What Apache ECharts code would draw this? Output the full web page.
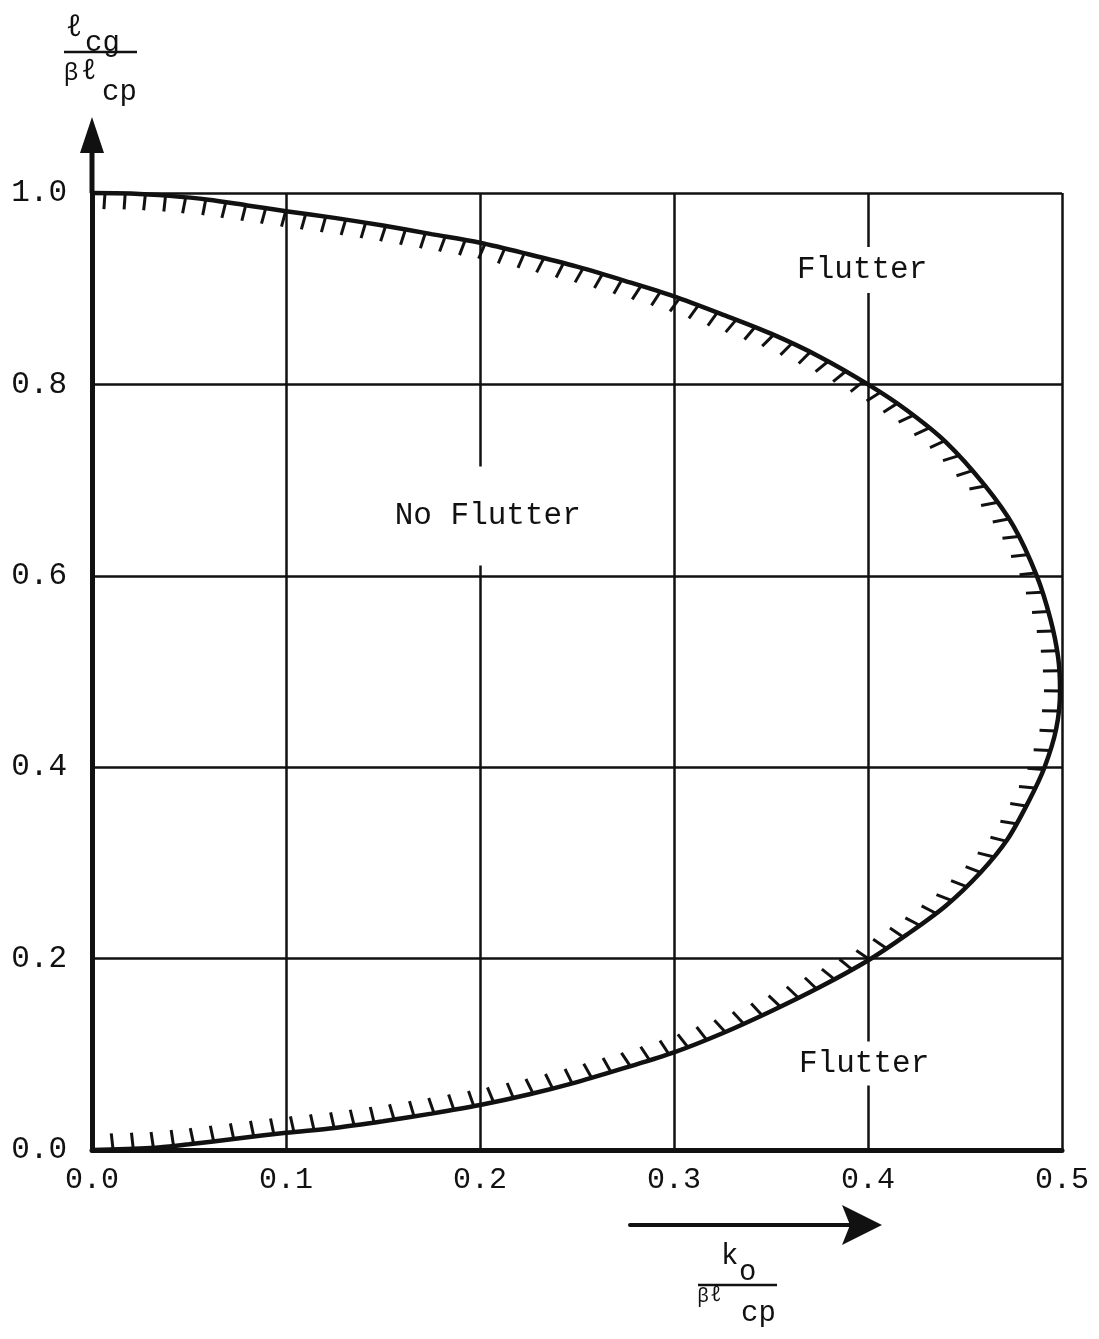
<!DOCTYPE html>
<html><head><meta charset="utf-8">
<script src="https://cdn.jsdelivr.net/npm/echarts@6/dist/echarts.min.js"></script>
<style>html,body{margin:0;padding:0;background:#fff}#c{width:1099px;height:1339px}</style>
</head><body><div id="c"></div>
<script>
// Flutter boundary: k_o/(beta l_cp) vs l_cg/(beta l_cp)
const curveK = [0, 0.02, 0.04, 0.06, 0.08, 0.1, 0.125, 0.15, 0.175, 0.2, 0.225, 0.25, 0.275, 0.3, 0.325, 0.35, 0.375, 0.4, 0.42, 0.44, 0.46, 0.475, 0.487, 0.494, 0.498, 0.499, 0.497, 0.491, 0.483, 0.472, 0.458, 0.44, 0.42, 0.4, 0.375, 0.35, 0.325, 0.3, 0.275, 0.25, 0.225, 0.2, 0.175, 0.15, 0.125, 0.1, 0.075, 0.05, 0.03, 0];
const curveL = [1.0, 0.9995, 0.997, 0.993, 0.987, 0.981, 0.974, 0.966, 0.957, 0.948, 0.936, 0.923, 0.908, 0.892, 0.873, 0.853, 0.829, 0.800, 0.773, 0.740, 0.695, 0.652, 0.600, 0.555, 0.515, 0.48, 0.44, 0.400, 0.365, 0.325, 0.29, 0.255, 0.225, 0.198, 0.170, 0.145, 0.122, 0.102, 0.086, 0.071, 0.058, 0.047, 0.038, 0.030, 0.023, 0.018, 0.012, 0.006, 0.002, 0];
const xTickLabels = ['0.0', '0.1', '0.2', '0.3', '0.4', '0.5'];
const yTickLabels = ['0.0', '0.2', '0.4', '0.6', '0.8', '1.0'];
const regionNames = ['Flutter', 'No Flutter', 'Flutter'];

const FONT = '"Liberation Mono", "DejaVu Sans Mono", monospace';
const SYM = '"Noto Sans", "DejaVu Sans", sans-serif';
const INK = '#111';

function renderHatch(params, api) {
  const pts = curveK.map((k, i) => api.coord([k, curveL[i]]));
  const n = pts.length;
  const cum = [0];
  for (let i = 1; i < n; i++) {
    cum.push(cum[i - 1] + Math.hypot(pts[i][0] - pts[i - 1][0], pts[i][1] - pts[i - 1][1]));
  }
  const total = cum[n - 1];
  const L = 16;
  const children = [];
  for (let s = 13; s < total - 12; s += 20.2) {
    let j = 1;
    while (cum[j] < s) j++;
    const t = (s - cum[j - 1]) / (cum[j] - cum[j - 1] || 1);
    const px = pts[j - 1][0] + t * (pts[j][0] - pts[j - 1][0]);
    const py = pts[j - 1][1] + t * (pts[j][1] - pts[j - 1][1]);
    const a = pts[Math.max(0, j - 2)], b = pts[Math.min(n - 1, j + 1)];
    let tx = b[0] - a[0], ty = b[1] - a[1];
    const tl = Math.hypot(tx, ty) || 1;
    tx /= tl; ty /= tl;
    const nx = -ty, ny = tx;
    let phi = Math.atan2(ny, nx);
    phi += (25 * Math.PI / 180) * Math.abs(Math.sin(2 * phi)) * (ny > 0 ? 1 : -1);
    children.push({
      type: 'line',
      shape: { x1: px, y1: py, x2: px + L * Math.cos(phi), y2: py + L * Math.sin(phi) },
      style: { stroke: INK, lineWidth: 3, lineCap: 'butt' }
    });
  }
  return { type: 'group', children };
}

function txt(text, x, y, size, family, align, italic) {
  return { type: 'text', style: { text, x, y, align: align || 'left', verticalAlign: 'middle',
    fontSize: size, fontFamily: family, fontStyle: italic ? 'italic' : 'normal', fill: INK } };
}

const chart = echarts.init(document.getElementById('c'), null, { renderer: 'canvas' });
const regionStyle = { color: INK, fontFamily: FONT, fontSize: 31, backgroundColor: '#fff', opacity: 1 };
chart.setOption({
  animation: false,
  backgroundColor: '#fff',
  grid: { left: 92, right: 37, top: 193, bottom: 189, containLabel: false },
  xAxis: {
    type: 'value', min: 0, max: 0.5, interval: 0.1,
    axisLine: { show: true, onZero: false, lineStyle: { color: INK, width: 5 } },
    axisTick: { show: false },
    splitLine: { show: true, lineStyle: { color: INK, width: 2.5 } },
    axisLabel: { color: INK, fontFamily: FONT, fontSize: 30, margin: 15,
      formatter: v => xTickLabels[Math.round(v * 10)] }
  },
  yAxis: {
    type: 'value', min: 0, max: 1, interval: 0.2,
    axisLine: { show: true, onZero: false, lineStyle: { color: INK, width: 5 } },
    axisTick: { show: false },
    splitLine: { show: true, lineStyle: { color: INK, width: 2.5 } },
    axisLabel: { color: INK, fontFamily: FONT, fontSize: 31, margin: 25,
      formatter: v => yTickLabels[Math.round(v * 5)] }
  },
  series: [
    {
      type: 'line', data: curveK.map((k, i) => [k, curveL[i]]),
      smooth: 0.3, showSymbol: false, clip: false, silent: true, z: 5,
      lineStyle: { color: INK, width: 4.5 }
    },
    {
      type: 'custom', data: [[0, 0]], renderItem: renderHatch, clip: false, silent: true, z: 4
    },
    {
      type: 'scatter', symbolSize: 0, silent: true, z: 3,
      itemStyle: { opacity: 1 },
      emphasis: { disabled: true },
      data: [
        { value: [0.397, 0.9195], label: { show: true, position: 'inside', formatter: regionNames[0], ...regionStyle, padding: [9, 4, 6, 4] } },
        { value: [0.204, 0.6625], label: { show: true, position: 'inside', formatter: regionNames[1], ...regionStyle, padding: [27, 6, 41, 6] } },
        { value: [0.398, 0.0904], label: { show: true, position: 'inside', formatter: regionNames[2], ...regionStyle, padding: [10, 4, 3, 4] } }
      ]
    }
  ]
});

const o = chart.convertToPixel({ gridIndex: 0 }, [0, 1]);
const yx = o[0], yTop = o[1];
chart.setOption({
  graphic: [
    // y axis arrow extension
    { type: 'line', shape: { x1: yx, y1: yTop, x2: yx, y2: yTop - 42 }, style: { stroke: INK, lineWidth: 5 } },
    { type: 'polygon', shape: { points: [[yx - 12, yTop - 40], [yx + 12, yTop - 40], [yx, yTop - 76]] }, style: { fill: INK } },
    // y axis title
    txt('ℓ', 74, 27, 30, SYM, 'center', true),
    txt('cg', 85, 43, 29, FONT),
    { type: 'line', shape: { x1: 64, y1: 52, x2: 137, y2: 52 }, style: { stroke: INK, lineWidth: 2.5 } },
    txt('β', 71, 73, 24, SYM, 'center'),
    txt('ℓ', 89, 71, 28, SYM, 'center', true),
    txt('cp', 102, 92, 29, FONT),
    // x axis direction arrow
    { type: 'line', shape: { x1: 630, y1: 1225, x2: 850, y2: 1225 }, style: { stroke: INK, lineWidth: 4, lineCap: 'round' } },
    { type: 'polygon', shape: { points: [[842, 1205], [882, 1225], [842, 1245], [850, 1225]] }, style: { fill: INK } },
    // x axis title
    txt('k', 721, 1256, 29, FONT),
    txt('o', 739, 1272, 29, FONT),
    { type: 'line', shape: { x1: 698, y1: 1285, x2: 777, y2: 1285 }, style: { stroke: INK, lineWidth: 2.5 } },
    txt('β', 703, 1297, 19, SYM, 'center'),
    txt('ℓ', 716, 1295, 21, SYM, 'center', true),
    txt('cp', 741, 1313, 29, FONT)
  ]
});
</script>
</body></html>
